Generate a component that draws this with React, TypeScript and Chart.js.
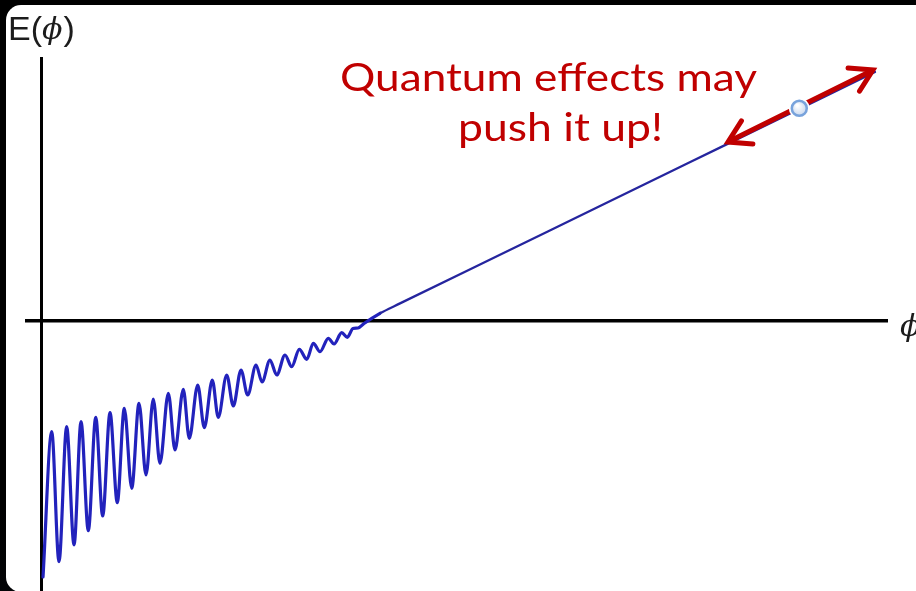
import { useEffect, useRef } from "react";
import { Chart, registerables } from "chart.js";

Chart.register(...registerables);

// Field value φ along the horizontal axis (plot units).
const PHI = [
  0.012, 0.115, 0.201, 0.292, 0.379, 0.462, 0.548, 0.636, 0.718, 0.805,
  0.891, 0.974, 1.062, 1.148, 1.231, 1.317, 1.396, 1.495, 1.574, 1.672,
  1.743, 1.843, 1.921, 2.015, 2.086, 2.186, 2.264, 2.355, 2.434, 2.533,
  2.604, 2.698, 2.778, 2.876, 2.955, 3.045, 3.133, 3.211, 3.29, 3.388,
  3.456, 3.547, 3.613, 3.68, 3.74, 3.811, 4.0, 4.237, 5.42, 6.604,
  8.083, 9.858,
];

// Energy E(φ) at each φ above: damped ripples riding on a rising line.
const ENERGY = [
  -5.12, -2.214, -4.814, -2.114, -4.48, -2.014, -4.194, -1.926, -3.9, -1.834,
  -3.634, -1.746, -3.346, -1.646, -3.08, -1.56, -2.846, -1.446, -2.58, -1.366,
  -2.346, -1.28, -2.134, -1.18, -1.926, -1.08, -1.7, -0.98, -1.48, -0.88,
  -1.22, -0.78, -1.08, -0.68, -0.914, -0.566, -0.766, -0.446, -0.614, -0.346,
  -0.46, -0.234, -0.326, -0.15, -0.14, -0.05, 0.154, 0.352, 1.326, 2.3,
  3.518, 4.98,
];

// Where the ripples die out and the line goes straight.
const RIPPLE_END_PHI = 3.9;

const PHI_RANGE = [-0.1775, 10.0];
const ENERGY_RANGE = [-5.4, 5.26];

// Callout text, placed by left edge / baseline in plot units.
const NOTE_LINES = ["Quantum effects may", "push it up!"];
const NOTE_LEFT_PHI = [3.527, 4.923];
const NOTE_RIGHT_PHI = [8.462, 7.349];
const NOTE_BASE_E = [4.61, 3.61];

// Double-headed arrow along the line and its grab handle.
const ARROW_PHI = [8.118, 9.834];
const ARROW_E = [3.58, 5.02];
const HANDLE_PHI = 8.962;
const HANDLE_E = 4.254;

const CURVE_COLOR = "#2222bc";
const NOTE_COLOR = "#c00000";

function drawHead(ctx: CanvasRenderingContext2D, tx: number, ty: number, ang: number) {
  const len = 25;
  const spread = (31 * Math.PI) / 180;
  ctx.beginPath();
  ctx.moveTo(tx + len * Math.cos(ang - spread), ty + len * Math.sin(ang - spread));
  ctx.lineTo(tx, ty);
  ctx.lineTo(tx + len * Math.cos(ang + spread), ty + len * Math.sin(ang + spread));
  ctx.stroke();
}

const annotations = {
  id: "annotations",
  afterDraw(chart: any) {
    const { ctx, chartArea, scales } = chart;
    const xs = scales.x;
    const ys = scales.y;
    ctx.save();

    // axis names
    const x0 = xs.getPixelForValue(0);
    const y0 = ys.getPixelForValue(0);
    ctx.fillStyle = "#1c1c1c";
    ctx.textBaseline = "alphabetic";
    let cx = x0 - 34;
    const by = chartArea.top - 18.5;
    ctx.font = '34px "Liberation Sans"';
    ctx.fillText("E(", cx, by);
    cx += ctx.measureText("E(").width;
    ctx.font = 'italic 30px "DejaVu Serif"';
    ctx.fillText("ϕ", cx, by - 1);
    cx += ctx.measureText("ϕ").width + 1;
    ctx.font = '34px "Liberation Sans"';
    ctx.fillText(")", cx, by);

    ctx.font = 'italic 30px "DejaVu Serif"';
    ctx.fillText("ϕ", chartArea.right + 13, y0 + 15);

    // callout text
    ctx.fillStyle = NOTE_COLOR;
    ctx.font = '38px "Lato"';
    NOTE_LINES.forEach((line, i) => {
      const left = xs.getPixelForValue(NOTE_LEFT_PHI[i]);
      const right = xs.getPixelForValue(NOTE_RIGHT_PHI[i]);
      const base = ys.getPixelForValue(NOTE_BASE_E[i]);
      const w = ctx.measureText(line).width;
      ctx.save();
      ctx.translate(left, base);
      ctx.scale((right - left) / w, 1);
      ctx.fillText(line, 0, 0);
      ctx.restore();
    });

    // arrow
    const ax1 = xs.getPixelForValue(ARROW_PHI[0]);
    const ay1 = ys.getPixelForValue(ARROW_E[0]);
    const ax2 = xs.getPixelForValue(ARROW_PHI[1]);
    const ay2 = ys.getPixelForValue(ARROW_E[1]);
    const ang = Math.atan2(ay2 - ay1, ax2 - ax1);
    ctx.strokeStyle = NOTE_COLOR;
    ctx.lineWidth = 5;
    ctx.lineCap = "round";
    ctx.lineJoin = "miter";
    ctx.beginPath();
    ctx.moveTo(ax1 + 2 * Math.cos(ang), ay1 + 2 * Math.sin(ang));
    ctx.lineTo(ax2 - 2 * Math.cos(ang), ay2 - 2 * Math.sin(ang));
    ctx.stroke();
    drawHead(ctx, ax1, ay1, ang);
    drawHead(ctx, ax2, ay2, ang + Math.PI);

    // handle
    const hx = xs.getPixelForValue(HANDLE_PHI);
    const hy = ys.getPixelForValue(HANDLE_E);
    ctx.beginPath();
    ctx.arc(hx, hy, 10.5, 0, Math.PI * 2);
    ctx.fillStyle = "#ffffff";
    ctx.fill();
    const g = ctx.createRadialGradient(hx - 2, hy - 3, 1, hx, hy, 8);
    g.addColorStop(0, "#ffffff");
    g.addColorStop(1, "#c6d6ee");
    ctx.beginPath();
    ctx.arc(hx, hy, 7.5, 0, Math.PI * 2);
    ctx.fillStyle = g;
    ctx.fill();
    ctx.lineWidth = 2.5;
    ctx.strokeStyle = "#78a3dc";
    ctx.stroke();

    ctx.restore();
  },
};

export default function App() {
  const ref = useRef<HTMLCanvasElement>(null);

  useEffect(() => {
    const canvas = ref.current;
    if (!canvas) return;
    const points = PHI.map((p, i) => ({ x: p, y: ENERGY[i] }));
    const chart = new Chart(canvas, {
      type: "line",
      data: {
        datasets: [
          {
            data: points,
            borderColor: CURVE_COLOR,
            borderWidth: 3.2,
            borderJoinStyle: "round",
            borderCapStyle: "round",
            pointRadius: 0,
            fill: false,
            cubicInterpolationMode: "monotone",
            segment: {
              borderWidth: (c: any) => (c.p0.parsed.x >= RIPPLE_END_PHI ? 2.3 : 3.2),
              borderColor: (c: any) => (c.p0.parsed.x >= RIPPLE_END_PHI ? "#25259e" : CURVE_COLOR),
            },
          },
        ],
      },
      options: {
        responsive: false,
        animation: false,
        devicePixelRatio: 1,
        events: [],
        layout: { padding: { left: 27, right: 29, top: 58, bottom: 0 } },
        plugins: { legend: { display: false }, tooltip: { enabled: false } },
        scales: {
          x: {
            type: "linear",
            min: PHI_RANGE[0],
            max: PHI_RANGE[1],
            position: { y: 0 },
            ticks: { display: false },
            grid: { display: false },
            border: { display: true, color: "#000000", width: 3.5 },
          },
          y: {
            type: "linear",
            min: ENERGY_RANGE[0],
            max: ENERGY_RANGE[1],
            position: { x: 0 },
            ticks: { display: false },
            grid: { display: false },
            border: { display: true, color: "#000000", width: 3 },
          },
        },
      } as any,
      plugins: [annotations],
    });
    if ((document as any).fonts) {
      (document as any).fonts.ready.then(() => chart.draw());
    }
    return () => chart.destroy();
  }, []);

  return (
    <div
      style={{
        position: "fixed",
        left: 0,
        top: 0,
        width: 916,
        height: 591,
        overflow: "hidden",
        background: "linear-gradient(160deg, #000000 0%, #000000 55%, #0e1520 100%)",
      }}
    >
      <div
        style={{
          position: "absolute",
          left: 6,
          top: 5,
          width: 930,
          height: 587,
          background: "#ffffff",
          borderRadius: 15,
        }}
      />
      <canvas
        ref={ref}
        width={916}
        height={591}
        style={{ position: "absolute", left: 0, top: 0, display: "block" }}
      />
    </div>
  );
}
